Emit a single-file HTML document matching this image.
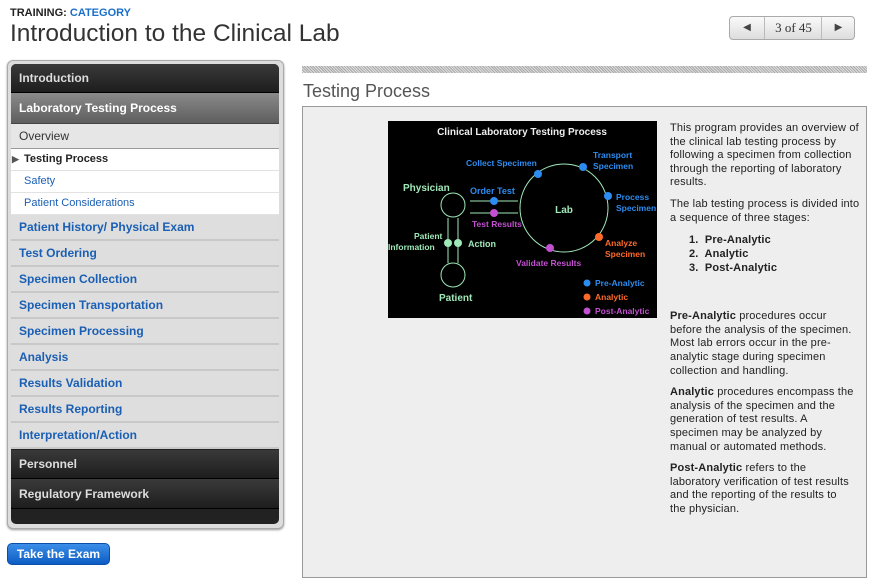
<!DOCTYPE html>
<html><head><meta charset="utf-8"><style>
*{margin:0;padding:0;box-sizing:border-box}
body{width:877px;height:588px;background:#fff;font-family:"Liberation Sans",Arial,sans-serif;position:relative;overflow:hidden}
.a{position:absolute}
.side{left:7px;top:60px;width:277px;height:469px;border:1px solid #aaa;border-radius:6px;background:#ddd;box-shadow:0 1px 2px #999}
.inner{left:11px;top:64px;width:268px;height:460px;background:#222;border-radius:5px;overflow:hidden}
.row{position:absolute;left:0;width:268px;padding-left:8px;font-size:12px;font-weight:bold}
.dark{background:linear-gradient(#3a3a3a,#1e1e1e);color:#ddd;border-bottom:1px solid #000}
.blue{background:#dedede;color:#1a5fb4;border-bottom:2px solid #c8c8c8;height:26px;line-height:24px}
.sub{background:#fff;color:#1a5fb4;font-weight:normal;font-size:11px;border-bottom:1px solid #e2e2e2;padding-left:13px}
p{margin-bottom:8px}
</style></head><body>
<div class="a" style="left:10px;top:7px;font-size:11px;font-weight:bold;color:#222">TRAINING: <span style="color:#1a6fc9">CATEGORY</span></div>
<div class="a" style="left:10px;top:20px;font-size:24.5px;color:#333">Introduction to the Clinical Lab</div>
<div class="a" style="left:729px;top:16px;width:126px;height:24px;border:1px solid #aaa;border-radius:4px;background:linear-gradient(#fafafa,#ddd);font-family:'Liberation Serif',serif;font-size:13px;color:#333">
<div class="a" style="left:0;top:0;width:35px;height:22px;border-right:1px solid #bbb;text-align:center;line-height:22px;font-size:10px;color:#444">◀</div>
<div class="a" style="left:36px;top:0;width:55px;height:22px;text-align:center;line-height:22px">3 of 45</div>
<div class="a" style="left:91px;top:0;width:34px;height:22px;border-left:1px solid #bbb;text-align:center;line-height:22px;font-size:10px;color:#444">▶</div>
</div>
<div class="a side"></div>
<div class="a inner">
<div class="row dark" style="top:0;height:29px;line-height:29px">Introduction</div>
<div class="row" style="top:29px;height:31px;line-height:30px;background:linear-gradient(#8a8a8a,#5e5e5e);color:#fff;border-bottom:1px solid #444">Laboratory Testing Process</div>
<div class="row" style="top:60px;height:25px;line-height:24px;background:#e6e6e6;color:#333;font-weight:normal;border-bottom:1px solid #999">Overview</div>
<div class="row sub" style="top:85px;height:22px;line-height:21px;color:#222;font-weight:bold"><span style="position:absolute;left:1px;font-size:9px;color:#555">▶</span>Testing Process</div>
<div class="row sub" style="top:107px;height:22px;line-height:21px">Safety</div>
<div class="row sub" style="top:129px;height:22px;line-height:21px">Patient Considerations</div>
<div class="row blue" style="top:151px">Patient History/ Physical Exam</div>
<div class="row blue" style="top:177px">Test Ordering</div>
<div class="row blue" style="top:203px">Specimen Collection</div>
<div class="row blue" style="top:229px">Specimen Transportation</div>
<div class="row blue" style="top:255px">Specimen Processing</div>
<div class="row blue" style="top:281px">Analysis</div>
<div class="row blue" style="top:307px">Results Validation</div>
<div class="row blue" style="top:333px">Results Reporting</div>
<div class="row blue" style="top:359px">Interpretation/Action</div>
<div class="row dark" style="top:386px;height:29px;line-height:29px">Personnel</div>
<div class="row dark" style="top:415px;height:30px;line-height:30px">Regulatory Framework</div>
</div>
<div class="a" style="left:7px;top:543px;width:103px;height:22px;border-radius:5px;background:linear-gradient(#3a8ee8,#0d5cc4);border:1px solid #0a4ea8;color:#fff;font-size:12px;font-weight:bold;text-align:center;line-height:20px">Take the Exam</div>

<div class="a" style="left:302px;top:66px;width:565px;height:7px;background:repeating-linear-gradient(45deg,#aaa 0 1px,#ddd 1px 2px)"></div>
<div class="a" style="left:303px;top:81px;font-size:18px;color:#555">Testing Process</div>
<div class="a" style="left:302px;top:106px;width:565px;height:472px;background:#eee;border:1px solid #999"></div>
<svg class="a" style="left:388px;top:121px" width="269" height="197" viewBox="0 0 269 197" font-family="Liberation Sans,sans-serif" font-weight="bold" font-size="9">
<rect width="269" height="197" fill="#000"/>
<text x="134" y="14" fill="#eee" text-anchor="middle" font-size="10">Clinical Laboratory Testing Process</text>
<circle cx="176" cy="87" r="44" fill="none" stroke="#9fe8b8" stroke-width="1"/>
<circle cx="65" cy="84" r="12" fill="none" stroke="#9fe8b8"/>
<circle cx="65" cy="154" r="12" fill="none" stroke="#9fe8b8"/>
<line x1="60" y1="97" x2="60" y2="142" stroke="#9fe8b8"/><line x1="70" y1="97" x2="70" y2="142" stroke="#9fe8b8"/>
<line x1="82" y1="80" x2="130" y2="80" stroke="#9fe8b8"/><line x1="82" y1="92" x2="130" y2="92" stroke="#9fe8b8"/>
<circle cx="60" cy="122" r="4" fill="#9fe8b8"/><circle cx="70" cy="122" r="4" fill="#9fe8b8"/>
<circle cx="106" cy="80" r="4" fill="#2d8cf0"/><circle cx="106" cy="92" r="4" fill="#c34fd1"/>
<circle cx="150" cy="53" r="4" fill="#2d8cf0"/><circle cx="195" cy="46" r="4" fill="#2d8cf0"/>
<circle cx="220" cy="75" r="4" fill="#2d8cf0"/><circle cx="211" cy="116" r="4" fill="#ff6a2a"/>
<circle cx="162" cy="127" r="4" fill="#c34fd1"/>
<text x="176" y="92" fill="#9fe8b8" text-anchor="middle" font-size="10">Lab</text>
<text x="15" y="70" fill="#9fe8b8" font-size="10">Physician</text>
<text x="51" y="180" fill="#9fe8b8" font-size="10">Patient</text>
<text x="26" y="118" fill="#9fe8b8" font-size="8.5">Patient</text>
<text x="0" y="129" fill="#9fe8b8" font-size="8.5">Information</text>
<text x="80" y="126" fill="#9fe8b8" font-size="9">Action</text>
<text x="82" y="73" fill="#2d8cf0" font-size="9">Order Test</text>
<text x="84" y="106" fill="#c34fd1" font-size="8.5">Test Results</text>
<text x="78" y="45" fill="#2d8cf0" font-size="8.5">Collect Specimen</text>
<text x="205" y="37" fill="#2d8cf0" font-size="8.5">Transport</text>
<text x="205" y="48" fill="#2d8cf0" font-size="8.5">Specimen</text>
<text x="228" y="79" fill="#2d8cf0" font-size="8.5">Process</text>
<text x="228" y="90" fill="#2d8cf0" font-size="8.5">Specimen</text>
<text x="217" y="125" fill="#ff6a2a" font-size="8.5">Analyze</text>
<text x="217" y="136" fill="#ff6a2a" font-size="8.5">Specimen</text>
<text x="128" y="145" fill="#c34fd1" font-size="8.5">Validate Results</text>
<circle cx="199" cy="162" r="3.5" fill="#2d8cf0"/><text x="207" y="165" fill="#2d8cf0" font-size="8.5">Pre-Analytic</text>
<circle cx="199" cy="176" r="3.5" fill="#ff6a2a"/><text x="207" y="179" fill="#ff6a2a" font-size="8.5">Analytic</text>
<circle cx="199" cy="190" r="3.5" fill="#c34fd1"/><text x="207" y="193" fill="#c34fd1" font-size="8.5">Post-Analytic</text>
</svg>
<div class="a" style="left:670px;top:122px;width:190px;font-size:11px;line-height:13.6px;color:#222;letter-spacing:0.15px">
<p>This program provides an overview of the clinical lab testing process by following a specimen from collection through the reporting of laboratory results.</p>
<p>The lab testing process is divided into a sequence of three stages:</p>
<div style="padding-left:19px;font-weight:bold;margin-bottom:35px;line-height:14px">1.&nbsp; Pre-Analytic<br>2.&nbsp; Analytic<br>3.&nbsp; Post-Analytic</div>
<div style="width:184px">
<p><b>Pre-Analytic</b> procedures occur before the analysis of the specimen. Most lab errors occur in the pre-analytic stage during specimen collection and handling.</p>
<p><b>Analytic</b> procedures encompass the analysis of the specimen and the generation of test results. A specimen may be analyzed by manual or automated methods.</p>
<p><b>Post-Analytic</b> refers to the laboratory verification of test results and the reporting of the results to the physician.</p>
</div>
</div>
</body></html>
